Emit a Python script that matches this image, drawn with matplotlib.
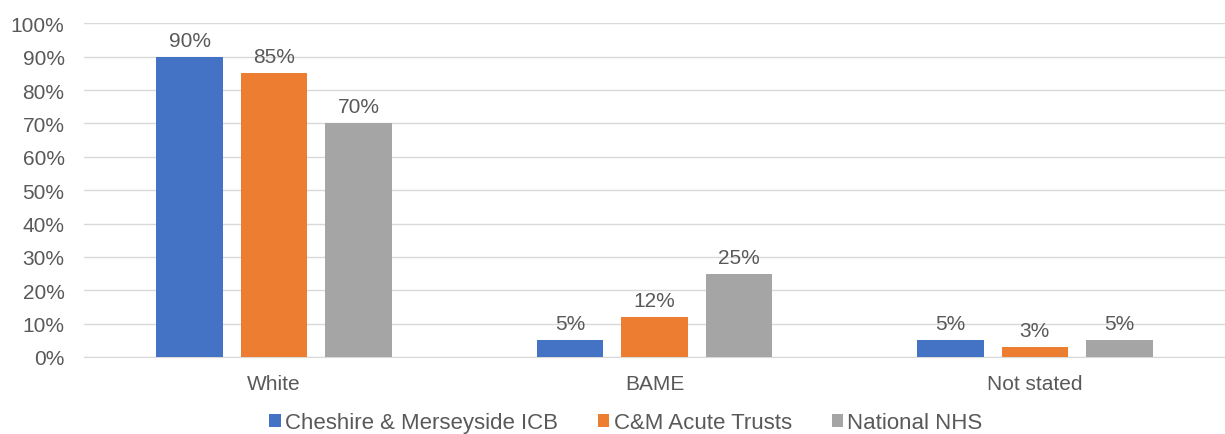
import numpy as np
import matplotlib.pyplot as plt
from matplotlib.ticker import PercentFormatter

# data
categories = ["White", "BAME", "Not stated"]
series_names = ["Cheshire & Merseyside ICB", "C&M Acute Trusts", "National NHS"]
icb = [90, 5, 5]
acute = [85, 12, 3]
national = [70, 25, 5]
colors = ["#4472C4", "#ED7D31", "#A5A5A5"]

plt.rcParams['font.family'] = ['Liberation Sans', 'DejaVu Sans']
txt = "#595959"
fs = 15

fig = plt.figure(figsize=(12.25, 4.35), dpi=100)
ax = fig.add_axes([84/1225, 1 - 358/435, 1 - 84/1225, (358 - 24.3)/435])

x = np.arange(len(categories))
width = 0.175
offset = 0.222
for i, (vals, name) in enumerate(zip([icb, acute, national], series_names)):
    bars = ax.bar(x + (i - 1) * offset, vals, width, color=colors[i], label=name, zorder=3)
    ax.bar_label(bars, labels=[f"{v}%" for v in vals], padding=5,
                 fontsize=fs, color=txt)

ax.set_xlim(-0.5, 2.5)
ax.set_ylim(0, 100)
ax.set_yticks(range(0, 101, 10))
ax.yaxis.set_major_formatter(PercentFormatter(decimals=0))
ax.set_xticks(x)
ax.set_xticklabels(categories)
ax.tick_params(axis='both', length=0, labelsize=fs, colors=txt)
ax.tick_params(axis='x', pad=12)
ax.tick_params(axis='y', pad=14)
ax.grid(axis='y', color="#D9D9D9", linewidth=1, zorder=0)
for s in ["top", "right", "left"]:
    ax.spines[s].set_visible(False)
ax.spines["bottom"].set_color("#D9D9D9")

handles, labels = ax.get_legend_handles_labels()
leg = fig.legend(handles, labels, loc="center", bbox_to_anchor=(626/1225, 1 - 424/435),
                 ncol=3, frameon=False, fontsize=16, handlelength=0.5, handleheight=0.5,
                 handletextpad=0.2, columnspacing=1.8)
for t in leg.get_texts():
    t.set_color(txt)

fig.savefig("out.png", dpi=100)
